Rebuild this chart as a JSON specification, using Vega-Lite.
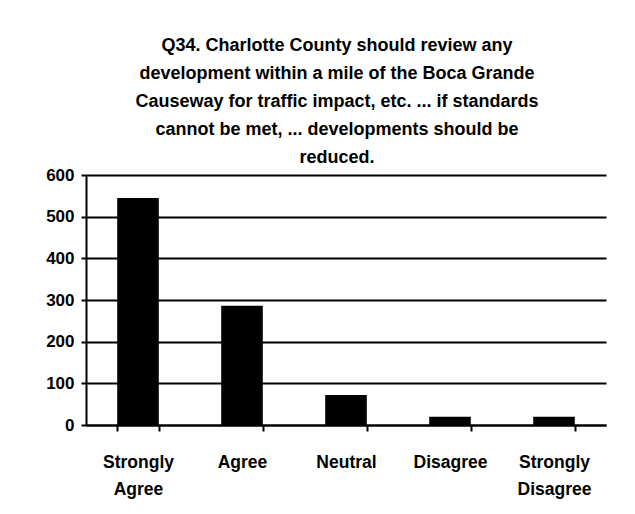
{
  "$schema": "https://vega.github.io/schema/vega-lite/v6.json",
  "width": 520,
  "height": 250,
  "autosize": {"type": "none"},
  "padding": {"left": 86, "top": 175, "right": 29, "bottom": 89},
  "background": "white",
  "title": {
    "text": ["Q34. Charlotte County should review any", "development within a mile of the Boca Grande", "Causeway for traffic impact, etc. ... if standards", "cannot be met, ... developments should be", "reduced."],
    "font": "Liberation Sans",
    "fontSize": 18,
    "fontWeight": "bold",
    "color": "black",
    "lineHeight": 28,
    "anchor": "middle",
    "frame": "group",
    "dx": -9,
    "offset": -1
  },
  "data": {
    "values": [
      {"response": "Strongly Agree", "count": 545},
      {"response": "Agree", "count": 286},
      {"response": "Neutral", "count": 72},
      {"response": "Disagree", "count": 20},
      {"response": "Strongly Disagree", "count": 20}
    ]
  },
  "mark": {"type": "bar", "color": "black"},
  "encoding": {
    "x": {
      "field": "response",
      "type": "nominal",
      "sort": null,
      "scale": {"paddingInner": 0.6, "paddingOuter": 0.3},
      "axis": {
        "title": null,
        "labelAngle": 0,
        "labelExpr": "split(datum.label, ' ')",
        "labelFont": "Liberation Sans",
        "labelFontSize": 17.5,
        "labelFontWeight": "bold",
        "labelColor": "black",
        "labelLineHeight": 27,
        "labelPadding": 22,
        "tickBand": "extent",
        "tickSize": 6,
        "tickColor": "black",
        "tickWidth": 2,
        "domainColor": "black",
        "domainWidth": 2
      }
    },
    "y": {
      "field": "count",
      "type": "quantitative",
      "scale": {"domain": [0, 600]},
      "axis": {
        "title": null,
        "values": [0, 100, 200, 300, 400, 500, 600],
        "labelFont": "Liberation Sans",
        "labelFontSize": 17,
        "labelFontWeight": "bold",
        "labelColor": "black",
        "labelPadding": 7,
        "tickSize": 5,
        "tickColor": "black",
        "tickWidth": 2,
        "domainColor": "black",
        "domainWidth": 2,
        "grid": true,
        "gridColor": "black",
        "gridWidth": 2,
        "gridOpacity": 1
      }
    }
  },
  "config": {"view": {"stroke": null}}
}
